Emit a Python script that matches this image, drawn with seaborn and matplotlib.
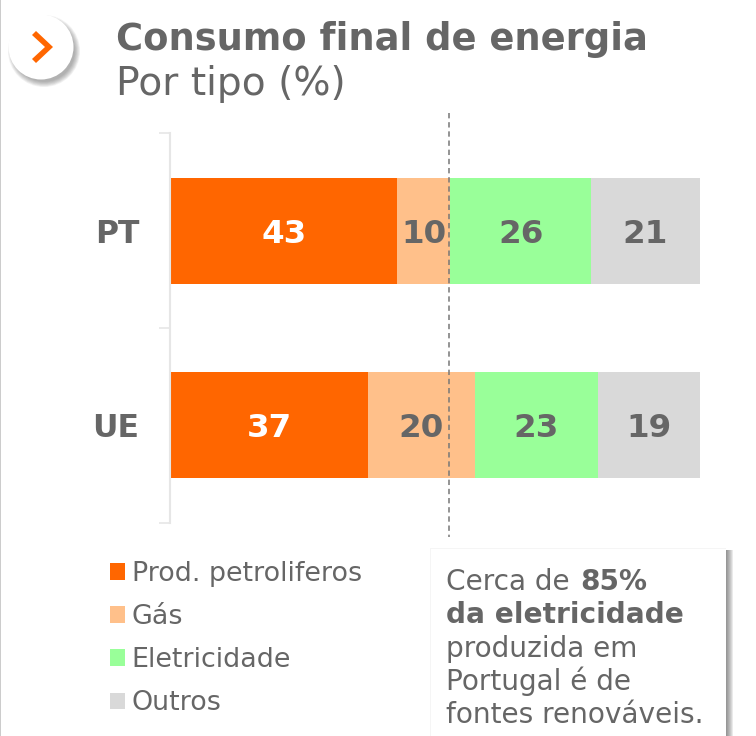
import numpy as np
import pandas as pd
import seaborn as sns
import matplotlib.pyplot as plt
from matplotlib.patches import Circle, Rectangle, Polygon
from matplotlib.patches import Patch

regioes = ['PT', 'UE']
tipos = ['Prod. petroliferos', 'Gás', 'Eletricidade', 'Outros']
# shares, labels as printed on the chart
pt_valores = [42.8, 10.0, 26.6, 20.6]
ue_valores = [37.2, 20.2, 23.3, 19.3]
pt_labels = ['43', '10', '26', '21']
ue_labels = ['37', '20', '23', '19']
cores = ['#FF6600', '#FFC08A', '#99FF99', '#D9D9D9']
cores_texto = ['white', '#666666', '#666666', '#666666']
cinza = '#666666'

df = pd.DataFrame({'regiao': regioes * 4,
                   'tipo': [t for t in tipos for _ in regioes],
                   'valor': [v for par in zip(pt_valores, ue_valores) for v in par]})
df['inicio'] = df.groupby('regiao')['valor'].cumsum() - df['valor']

sns.set_theme(style='white')
plt.rcParams['font.family'] = 'DejaVu Sans'

W, H = 756, 736
fig = plt.figure(figsize=(W / 100, H / 100), dpi=100, facecolor='white')

ax = fig.add_axes([171 / W, 1 - 522.5 / H, 529 / W, 389 / H], zorder=1)
ax.patch.set_alpha(0)
for t, c in zip(tipos, cores):
    sub = df[df['tipo'] == t]
    sns.barplot(data=sub, y='regiao', x='valor', left=sub['inicio'].values, color=c,
                saturation=1, width=0.545, order=regioes, ax=ax, linewidth=0)

ax.set_xlim(0, 100)
ax.set_ylim(1.5, -0.5)
ax.set_xlabel('')
ax.set_ylabel('')
ax.set_xticks([])
ax.set_yticks([0, 1], regioes)
ax.set_yticks([-0.5, 0.5, 1.5], minor=True)
ax.tick_params(axis='y', which='major', left=False, length=0, pad=22, labelsize=22.7, labelcolor=cinza)
ax.tick_params(axis='y', which='minor', left=True, length=8, width=1.2, color='#E6E6E6')
sns.despine(ax=ax, top=True, right=True, bottom=True)
ax.spines['left'].set_color('#E6E6E6')
ax.spines['left'].set_linewidth(1.5)
ax.spines['left'].set_position(('outward', 1))
for lab in ax.get_yticklabels():
    lab.set_fontweight('bold')

for i, (vals, labs) in enumerate([(pt_valores, pt_labels), (ue_valores, ue_labels)]):
    ini = 0
    for v, lab, ct in zip(vals, labs, cores_texto):
        ax.text(ini + v / 2, i, lab, ha='center', va='center_baseline', fontsize=23.4,
                fontweight='bold', color=ct)
        ini += v

# page level stuff in pixel coords
top = fig.add_axes([0, 0, 1, 1], zorder=2)
top.set_xlim(0, W)
top.set_ylim(H, 0)
top.axis('off')
top.patch.set_alpha(0)

# dashed reference line
top.plot([449, 449], [113, 537], color='#777777', lw=1.1, ls=(0, (3.5, 2.5)))

# left page edge
top.add_patch(Rectangle((0, 0), 1.3, H, color='#CCCCCC', lw=0))

# round button with soft shadow
for k in np.arange(8, 0, -1):
    top.add_patch(Circle((44, 51), 30 + k * 0.75, color='#555555', alpha=0.07, lw=0))
top.add_patch(Circle((41, 47), 32.5, color='white', lw=0))
top.add_patch(Polygon([(32, 35), (36, 31), (53, 47), (36, 63), (32, 59), (45, 47)],
                      closed=True, color='#FF6600', lw=0))

# titles
top.text(116, 50, 'Consumo final de energia', fontsize=26.6, fontweight='bold',
         color=cinza, va='baseline')
top.text(116, 95, 'Por tipo (%)', fontsize=28.2, color=cinza, va='baseline')

# legend
handles = [Patch(facecolor=c, edgecolor='none') for c in cores]
leg = ax.legend(handles, tipos, loc='upper left', bbox_to_anchor=(110 / W, 1 - 561 / H),
                bbox_transform=fig.transFigure, frameon=False, fontsize=19.4,
                handlelength=0.57, handleheight=0.57, handletextpad=0.24,
                labelspacing=0.635, borderpad=0, borderaxespad=0)
for t in leg.get_texts():
    t.set_color(cinza)

# callout box with shadow
for k in np.arange(7, 0, -1):
    top.add_patch(Rectangle((430, 550), 296 + k, 200, color='#555555', alpha=0.12, lw=0))
top.add_patch(Rectangle((430, 548), 296, 200, color='white', lw=0))
top.add_patch(Rectangle((430, 548), 296, 1.2, color='#F5F5F5', lw=0))
top.add_patch(Rectangle((429.5, 548), 1.2, 200, color='#F5F5F5', lw=0))
fs = 20.2
top.text(446, 590, 'Cerca de', fontsize=fs, color=cinza, va='baseline')
top.text(580, 590, '85%', fontsize=fs, fontweight='bold', color=cinza, va='baseline')
top.text(446, 623, 'da eletricidade', fontsize=fs, fontweight='bold', color=cinza, va='baseline')
top.text(446, 657, 'produzida em', fontsize=fs, color=cinza, va='baseline')
top.text(446, 690, 'Portugal é de', fontsize=fs, color=cinza, va='baseline')
top.text(446, 723, 'fontes renováveis.', fontsize=fs, color=cinza, va='baseline')

fig.savefig('out.png', dpi=100)
